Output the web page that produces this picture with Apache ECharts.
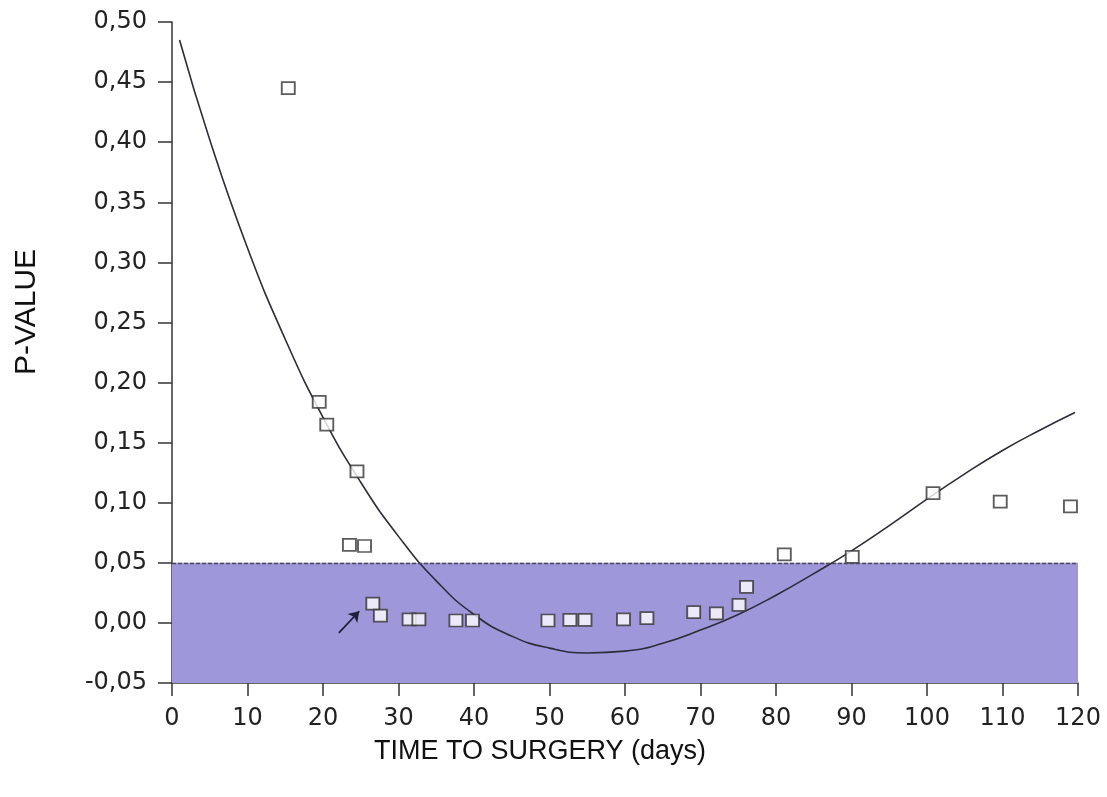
<!DOCTYPE html>
<html>
<head>
<meta charset="utf-8">
<script src="https://cdn.jsdelivr.net/npm/echarts@6/dist/echarts.min.js"></script>
<style>
  html, body { margin: 0; padding: 0; background: #ffffff; }
  #chart { width: 1107px; height: 797px; }
</style>
</head>
<body>
<div id="chart"></div>
<script>
// Observed p-values by time to surgery (days)
const obsDays = [15.4, 19.5, 20.5, 24.5, 23.5, 25.5, 26.6, 27.6, 31.4, 32.7, 37.6, 39.8,
                 49.8, 52.7, 54.7, 59.8, 62.9, 69.1, 72.1, 75.1, 76.1, 81.1, 90.1, 100.8, 109.7, 119.0];
const obsP    = [0.445, 0.184, 0.165, 0.126, 0.065, 0.064, 0.016, 0.006, 0.003, 0.003, 0.002, 0.002,
                 0.002, 0.0025, 0.0025, 0.003, 0.004, 0.009, 0.008, 0.015, 0.030, 0.057, 0.055, 0.108, 0.101, 0.097];

// Fitted trend curve
const fitDays = [1, 5, 10, 15, 20, 25, 30, 35, 40, 45, 50, 55, 60, 65, 70, 75, 80, 85, 90, 95,
                 100, 105, 110, 115, 119.6];
const fitP    = [0.485, 0.402, 0.312, 0.236, 0.171, 0.117, 0.072, 0.035, 0.007, -0.011, -0.021, -0.025,
                 -0.0235, -0.017, -0.006, 0.007, 0.023, 0.041, 0.060, 0.081, 0.103, 0.124, 0.1435, 0.1605, 0.175];

// Significance threshold band
const bandLow = -0.05;
const bandHigh = 0.05;

// Arrow pointing at the highlighted observation
const arrowFrom = [22.1, -0.0083];
const arrowTo = [24.8, 0.0097];

const yTicks = { min: -0.05, max: 0.5, step: 0.05 };
const xTicks = { min: 0, max: 120, step: 10 };

const TICK_FONT = 'DejaVu Sans, Arial, sans-serif';
const TITLE_FONT = 'Liberation Sans, Arial, sans-serif';
const chart = echarts.init(document.getElementById('chart'));

const zip = (a, b) => a.map((v, i) => [v, b[i]]);

chart.setOption({
  animation: false,
  backgroundColor: '#ffffff',
  grid: { left: 172, right: 29, top: 22, bottom: 114 },
  xAxis: {
    type: 'value',
    min: xTicks.min, max: xTicks.max, interval: xTicks.step,
    axisLine: { onZero: false, lineStyle: { color: '#333', width: 1.5 } },
    axisTick: { length: 13, lineStyle: { color: '#333', width: 1.5 } },
    axisLabel: { margin: 24, fontSize: 24, color: '#222', fontFamily: TICK_FONT },
    splitLine: { show: false }
  },
  yAxis: {
    type: 'value',
    min: yTicks.min, max: yTicks.max, interval: yTicks.step,
    axisLine: { show: true, lineStyle: { color: '#333', width: 1.5 } },
    axisTick: { show: true, length: 14, lineStyle: { color: '#333', width: 1.5 } },
    axisLabel: {
      margin: 25, fontSize: 24, color: '#222', fontFamily: TICK_FONT,
      formatter: v => v.toFixed(2).replace('.', ',')
    },
    splitLine: { show: false }
  },
  graphic: [
    {
      type: 'text', rotation: Math.PI / 2, x: 27, y: 312,
      style: { text: 'P-VALUE', font: '30px ' + TITLE_FONT, fill: '#111', textAlign: 'center', textVerticalAlign: 'middle' }
    },
    {
      type: 'text', x: 540, y: 752,
      style: { text: 'TIME TO SURGERY (days)', font: '27px ' + TITLE_FONT, fill: '#111', textAlign: 'center', textVerticalAlign: 'middle' }
    }
  ],
  series: [
    {
      // threshold band and its dashed upper edge
      type: 'line',
      data: [],
      silent: true,
      markArea: {
        silent: true,
        itemStyle: { color: '#9e98db' },
        data: [[{ xAxis: xTicks.min, yAxis: bandLow }, { xAxis: xTicks.max, yAxis: bandHigh }]]
      },
      markLine: {
        silent: true,
        symbol: 'none',
        label: { show: false },
        lineStyle: { color: '#4a4a55', type: [4, 2], width: 1.3 },
        data: [[{ coord: [xTicks.min, bandHigh] }, { coord: [xTicks.max, bandHigh] }]]
      }
    },
    {
      type: 'line',
      data: zip(fitDays, fitP),
      smooth: 0.5,
      showSymbol: false,
      symbol: 'none',
      lineStyle: { color: '#2c2c3a', width: 1.6 },
      z: 3
    },
    {
      type: 'scatter',
      data: zip(obsDays, obsP),
      symbol: 'rect',
      symbolSize: [13, 12],
      itemStyle: { color: '#ffffff', borderColor: '#333', borderWidth: 1.8 },
      z: 4,
      markLine: {
        silent: true,
        symbol: ['none', 'arrow'],
        symbolSize: 10,
        label: { show: false },
        lineStyle: { color: '#1f1f3a', type: 'solid', width: 1.8 },
        data: [[{ coord: arrowFrom }, { coord: arrowTo }]]
      }
    }
  ]
});
</script>
</body>
</html>
